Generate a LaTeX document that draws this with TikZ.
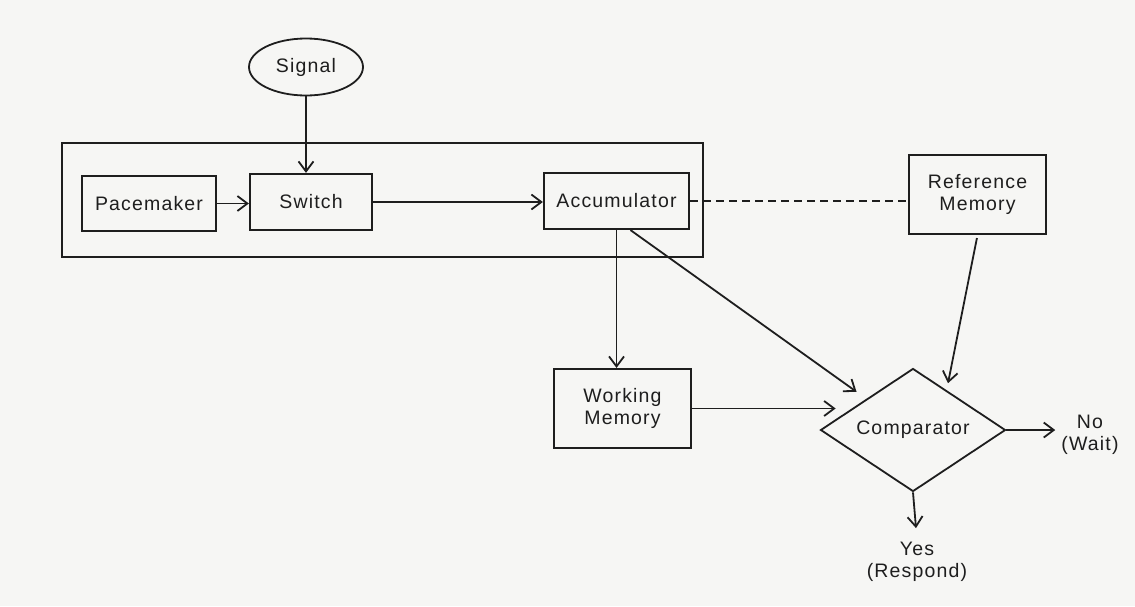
\documentclass[tikz,border=0pt]{standalone}
\usepackage{fontspec}
\setmainfont{Liberation Sans}[LetterSpace=6]
\usetikzlibrary{shapes.geometric,arrows.meta,calc}
\definecolor{paper}{RGB}{246,246,244}
\definecolor{ink}{RGB}{30,30,30}
\begin{document}
\begin{tikzpicture}[x=1pt,y=-1pt,
  every node/.style={font=\fontsize{19.5}{22}\selectfont, text=ink, align=center},
  box/.style={draw=ink, line width=2.2pt, rectangle, inner sep=0pt},
  conn/.style={draw=ink, line width=1.8pt},
  arr/.style={conn, -{Straight Barb[length=10pt,width=15pt,line width=1.8pt]}},
]
\fill[paper] (0,0) rectangle (1135,606);
\path[use as bounding box] (0,0) rectangle (1135,606);

\node[box, minimum width=641pt, minimum height=114pt] (clock) at (382.5,200) {};
\node[box, ellipse, line width=1.8pt, minimum width=114pt, minimum height=57pt] (signal) at (306,67) {Signal};
\node[box, minimum width=134pt, minimum height=55pt] (pace) at (149,203.5) {Pacemaker};
\node[box, minimum width=122pt, minimum height=56pt] (switch) at (311,202) {Switch};
\node[box, minimum width=145pt, minimum height=56pt] (acc) at (616.5,201) {Accumulator};
\node[box, minimum width=137pt, minimum height=79pt] (refmem) at (977.5,194.5) {Reference\\Memory};
\node[box, minimum width=137pt, minimum height=79pt] (work) at (622.5,408.5) {Working\\Memory};
\node[draw=ink, line width=1.8pt, diamond, aspect=1.5, minimum width=185pt, minimum height=123pt, inner sep=0pt] (comp) at (913,430) {Comparator};

\node[inner sep=2pt] (no) at (1090,435) {No\\(Wait)};
\node[inner sep=2pt] (yes) at (917,562) {Yes\\(Respond)};

\draw[arr] (signal.south) -- (signal.south |- switch.north);
\draw[arr] (pace.east) -- (pace.east -| switch.west);
\draw[arr] (switch.east) -- (switch.east -| acc.west);
\draw[conn, dash pattern=on 8pt off 5pt] (acc.east) -- (acc.east -| refmem.west);
\draw[arr] (acc.south) -- (acc.south |- work.north);
\draw[arr, shorten >=12pt] ($(acc.south)+(14,0)$) -- (comp.north west);
\draw[arr] (work.east) -- ($(work.east -| comp.west)+(16,0)$);
\draw[arr, shorten >=7pt, shorten <=3pt] (refmem.south) -- ($(comp.north)!0.36!(comp.east)$);
\draw[arr, shorten >=4pt] (comp.east) -- (comp.east -| no.west);
\draw[arr, shorten >=12pt] (comp.south) -- (yes.north);
\end{tikzpicture}
\end{document}
